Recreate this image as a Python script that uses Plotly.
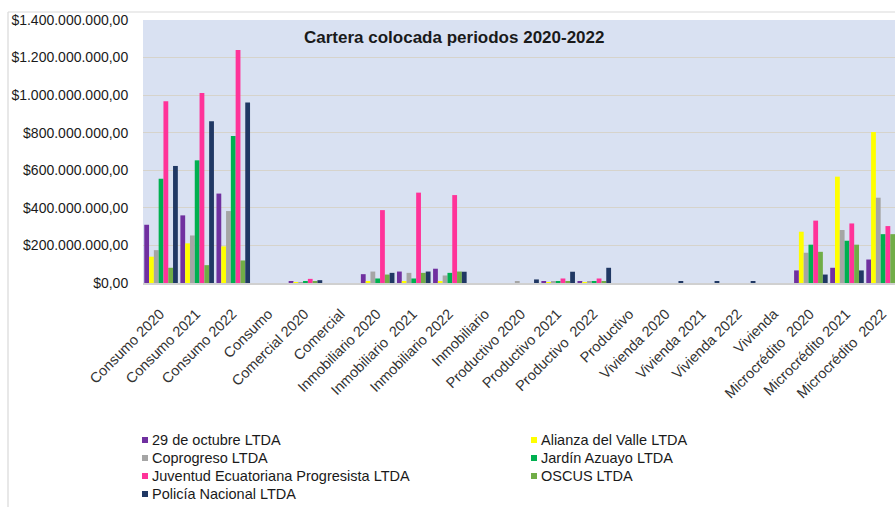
import plotly.graph_objects as go

categories = ["Consumo 2020", "Consumo 2021", "Consumo 2022", "Consumo",
              "Comercial 2020", "Comercial",
              "Inmobiliario 2020", "Inmobiliario\u00a0 2021", "Inmobiliario 2022", "Inmobiliario",
              "Productivo 2020", "Productivo 2021", "Productivo\u00a0 2022", "Productivo",
              "Vivienda 2020", "Vivienda 2021", "Vivienda 2022", "Vivienda",
              "Microcrédito\u00a0 2020", "Microcrédito 2021", "Microcrédito\u00a0 2022"]

series_names = ["29 de octubre LTDA", "Alianza del Valle LTDA", "Coprogreso LTDA",
                "Jardín Azuayo LTDA", "Juventud Ecuatoriana Progresista LTDA",
                "OSCUS LTDA", "Policía Nacional LTDA"]

colors = ["#7030A0", "#FFFF00", "#A5A5A5", "#00B050", "#FF3399", "#70AD47", "#203864"]

octubre = [310e6, 360e6, 476e6, 0, 9e6, 0, 47e6, 61e6, 76e6, 0, 0, 9e6, 9e6, 0,
           0, 0, 0, 0, 67e6, 81e6, 125e6]
alianza = [140e6, 211e6, 195e6, 0, 1e6, 0, 10e6, 10e6, 10e6, 0, 0, 2e6, 1e6, 0,
           0, 0, 0, 0, 273e6, 566e6, 804e6]
coprogreso = [175e6, 253e6, 383e6, 0, 3e6, 0, 61e6, 54e6, 40e6, 0, 10e6, 8e6, 8e6, 0,
              0, 0, 0, 0, 161e6, 282e6, 454e6]
jardin = [555e6, 653e6, 783e6, 0, 8e6, 0, 24e6, 24e6, 54e6, 0, 0, 9e6, 8e6, 0,
          0, 0, 0, 0, 204e6, 225e6, 260e6]
juventud = [967e6, 1011e6, 1240e6, 0, 22e6, 0, 388e6, 481e6, 468e6, 0, 0, 24e6, 24e6, 0,
            0, 0, 0, 0, 332e6, 317e6, 303e6]
oscus = [81e6, 95e6, 120e6, 0, 10e6, 0, 45e6, 54e6, 61e6, 0, 0, 9e6, 8e6, 0,
         0, 0, 0, 0, 166e6, 204e6, 260e6]
policia = [623e6, 861e6, 961e6, 0, 15e6, 0, 54e6, 61e6, 60e6, 0, 19e6, 60e6, 81e6, 0,
           8e6, 8e6, 8e6, 0, 45e6, 67e6, 50e6]

series_values = [octubre, alianza, coprogreso, jardin, juventud, oscus, policia]

y_tickvals = [0, 200e6, 400e6, 600e6, 800e6, 1000e6, 1200e6, 1400e6]
y_ticktext = ["$0,00", "$200.000.000,00", "$400.000.000,00", "$600.000.000,00",
              "$800.000.000,00", "$1.000.000.000,00", "$1.200.000.000,00",
              "$1.400.000.000,00"]

chart_title = "Cartera colocada periodos 2020-2022"

FONT = "Arial, 'Liberation Sans', sans-serif"

fig = go.Figure()
for name, vals, col in zip(series_names, series_values, colors):
    fig.add_trace(go.Bar(name=name, x=categories, y=vals, marker_color=col,
                         marker_line_width=0, showlegend=False))

# plot area geometry (px)
L, R, T, B = 143, 0, 20, 224
W, H = 895, 507
pw = W - L - R
ph = H - T - B


def px_x(p):
    return (p - L) / pw


def px_y(p):
    return (H - B - p) / ph


shapes = [dict(type="line", xref="paper", yref="paper", x0=px_x(8), x1=px_x(8),
               y0=px_y(12), y1=px_y(520), line=dict(color="#D9D9D9", width=1.2)),
          dict(type="line", xref="paper", yref="paper", x0=px_x(8), x1=px_x(900),
               y0=px_y(12), y1=px_y(12), line=dict(color="#D9D9D9", width=1.2))]

annotations = [dict(text="<b>" + chart_title + "</b>", xref="paper", yref="paper",
                    x=px_x(302), y=px_y(37), xanchor="left", yanchor="middle",
                    showarrow=False,
                    font=dict(family=FONT, size=17, color="#1A1A1A"))]

# legend (two columns, Excel style)
leg_cols_x = [142, 531]
leg_rows_y = [440, 458, 476, 494]
for i, (name, col) in enumerate(zip(series_names, colors)):
    cx = leg_cols_x[i % 2]
    cy = leg_rows_y[i // 2]
    shapes.append(dict(type="rect", xref="paper", yref="paper",
                       x0=px_x(cx), x1=px_x(cx + 6), y0=px_y(cy + 3), y1=px_y(cy - 3),
                       fillcolor=col, line=dict(width=0)))
    annotations.append(dict(text=name, xref="paper", yref="paper",
                            x=px_x(cx + 8), y=px_y(cy), xanchor="left", yanchor="middle",
                            showarrow=False,
                            font=dict(family=FONT, size=14.5, color="#1A1A1A")))

fig.update_layout(
    width=W, height=H,
    margin=dict(l=L, r=R, t=T, b=B, pad=0, autoexpand=False),
    paper_bgcolor="white",
    plot_bgcolor="#D9E1F2",
    barmode="group", bargap=0.07, bargroupgap=0,
    font=dict(family=FONT, size=13, color="#262626"),
    xaxis=dict(type="category", range=[-0.5, 20.33], tickangle=-45,
               showgrid=False, showline=True, linecolor="#D0D0D0", linewidth=1.5,
               ticks="outside", ticklen=15, tickcolor="rgba(0,0,0,0)",
               ticklabelshift=-1,
               tickfont=dict(family=FONT, size=14.5, color="#333333"),
               automargin=False, fixedrange=True),
    yaxis=dict(range=[0, 1.4e9], tickvals=y_tickvals, ticktext=y_ticktext,
               showgrid=True, gridcolor="#D6D3CB", gridwidth=1.2,
               zeroline=False, showline=False,
               ticks="outside", ticklen=11, tickcolor="rgba(0,0,0,0)",
               tickfont=dict(family=FONT, size=14, color="#1A1A1A"),
               automargin=False, fixedrange=True),
    showlegend=False,
    annotations=annotations,
    shapes=shapes,
)

fig.write_html("out.html")
